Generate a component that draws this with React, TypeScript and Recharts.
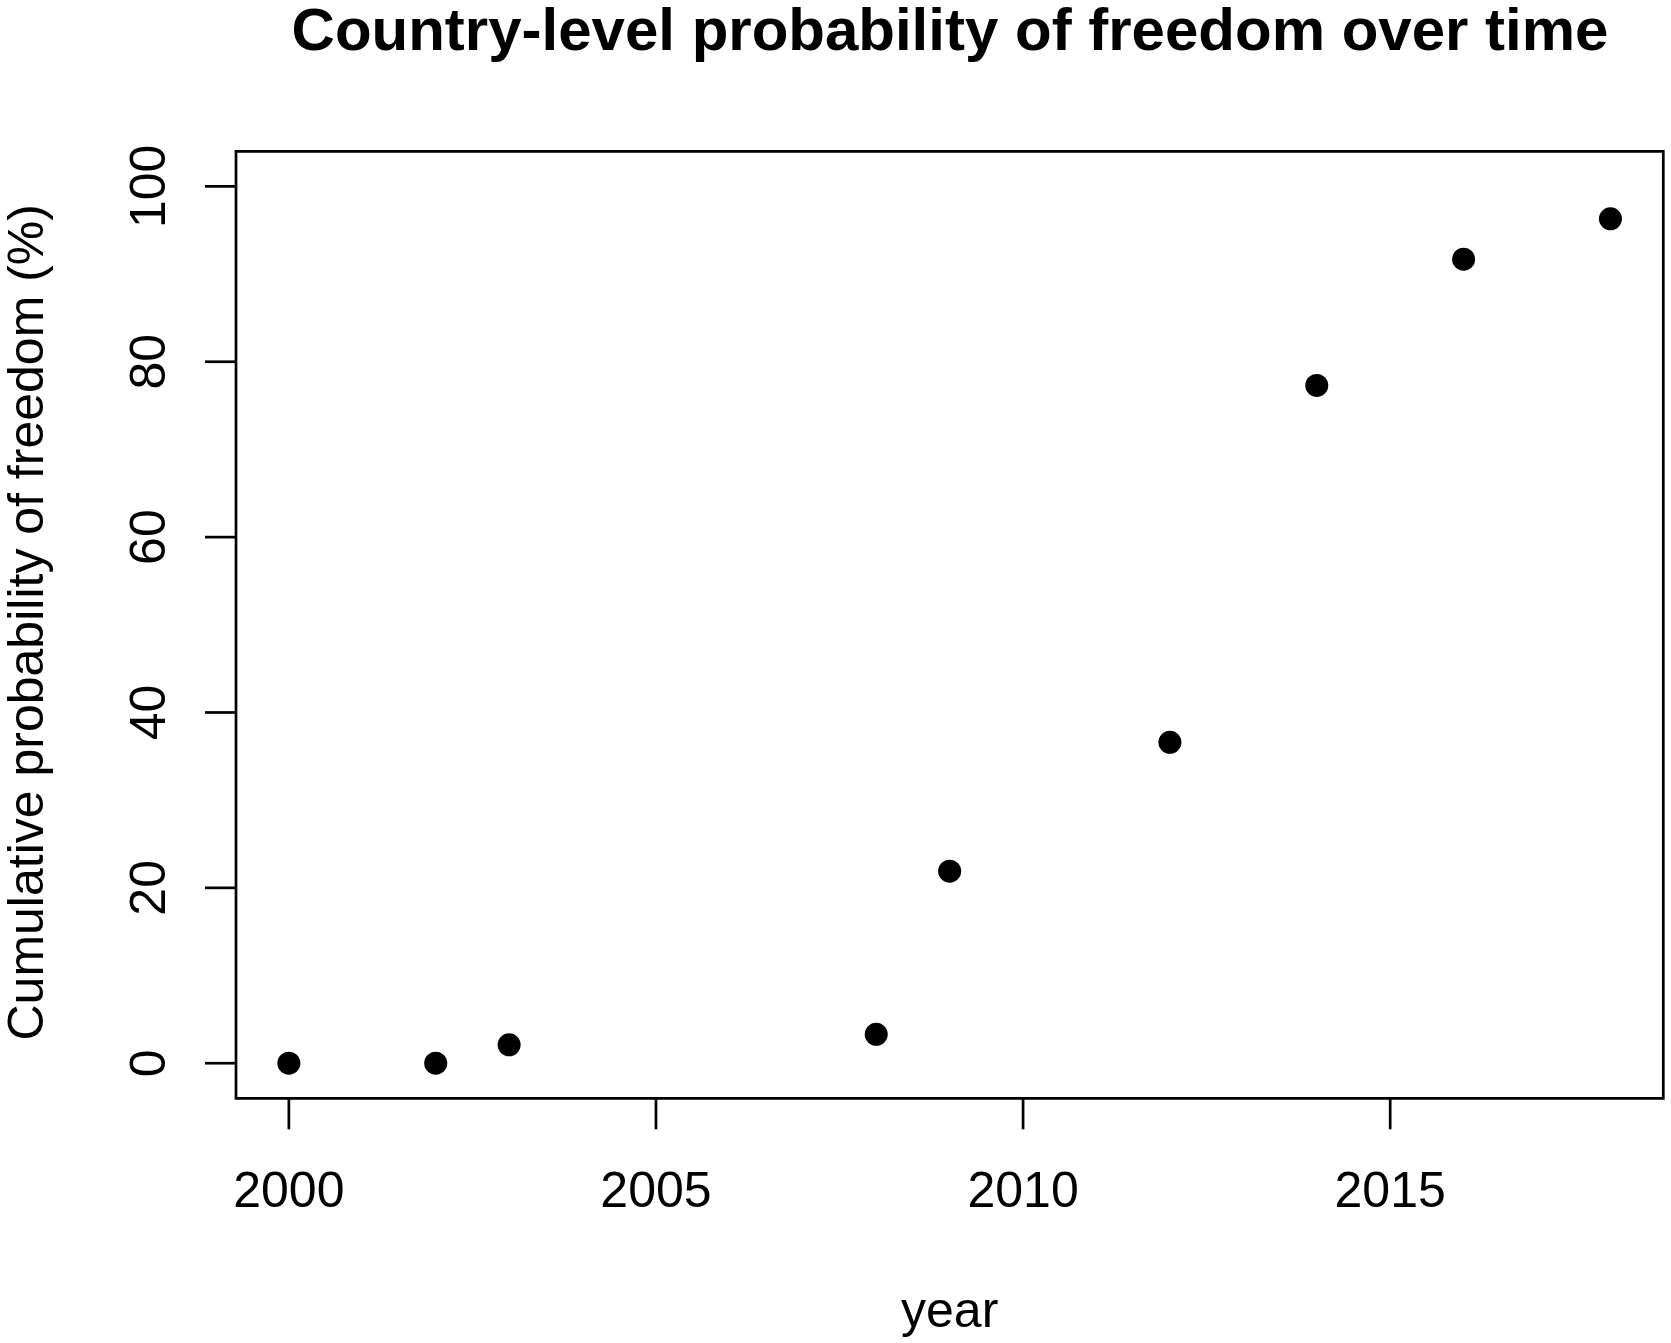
import React from 'react';
import {
  ScatterChart,
  Scatter,
  XAxis,
  YAxis,
  ReferenceArea,
} from 'recharts';

// years with an estimate
const years = [2000, 2002, 2003, 2008, 2009, 2012, 2014, 2016, 2018];
// cumulative probability of freedom (%)
const probability = [0, 0, 2.1, 3.3, 21.9, 36.6, 77.3, 91.7, 96.3];

const xTicks = [2000, 2005, 2010, 2015];
const yTicks = [0, 20, 40, 60, 80, 100];

const TITLE = 'Country-level probability of freedom over time';
const X_LABEL = 'year';
const Y_LABEL = 'Cumulative probability of freedom (%)';

// R style axis ranges (4% padding)
const X_DOMAIN = [1999.28, 2018.72];
const Y_DOMAIN = [-4, 104];

const FONT = '"Liberation Sans", Arial, sans-serif';
const WIDTH = 1671;
const HEIGHT = 1343;

const data = years.map((year, i) => ({ year, value: probability[i] }));

const XTick = ({ x, y, payload }: any) => (
  <text x={x} y={y} textAnchor="middle" fontSize={50} fill="#000" fontFamily={FONT}>
    {payload.value}
  </text>
);

const YTick = ({ x, y, payload }: any) => (
  <text
    x={x}
    y={y}
    transform={`rotate(-90, ${x}, ${y})`}
    textAnchor="middle"
    fontSize={50}
    fill="#000"
    fontFamily={FONT}
  >
    {payload.value}
  </text>
);

const Dot = (props: any) => <circle cx={props.cx} cy={props.cy} r={11.5} fill="#000" />;

const App = () => {
  return (
    <div style={{ position: 'relative', width: WIDTH, height: HEIGHT, background: '#fff' }}>
      <style>{'body{margin:0}'}</style>
      <ScatterChart
        width={WIDTH}
        height={HEIGHT}
        margin={{ top: 151.3, right: 7.7, bottom: 144.7, left: 36 }}
      >
        <XAxis
          type="number"
          dataKey="year"
          domain={X_DOMAIN}
          ticks={xTicks}
          allowDataOverflow
          height={100}
          axisLine={false}
          tickSize={31}
          tickMargin={77.7}
          tickLine={{ stroke: '#000', strokeWidth: 2.7 }}
          tick={<XTick />}
          interval={0}
          label={(props: any) => {
            const vb = props.viewBox;
            return (
              <text
                x={vb.x + vb.width / 2}
                y={vb.y + 228.7}
                textAnchor="middle"
                fontSize={50}
                fill="#000"
                fontFamily={FONT}
              >
                {X_LABEL}
              </text>
            );
          }}
        />
        <YAxis
          type="number"
          dataKey="value"
          domain={Y_DOMAIN}
          ticks={yTicks}
          allowDataOverflow
          width={200}
          axisLine={false}
          tickSize={31}
          tickMargin={40}
          tickLine={{ stroke: '#000', strokeWidth: 2.7 }}
          tick={<YTick />}
          interval={0}
          label={(props: any) => {
            const vb = props.viewBox;
            const lx = vb.x + 7;
            const ly = vb.y + vb.height / 2 - 2.5;
            return (
              <text
                x={lx}
                y={ly}
                transform={`rotate(-90, ${lx}, ${ly})`}
                textAnchor="middle"
                fontSize={50}
                fill="#000"
                fontFamily={FONT}
              >
                {Y_LABEL}
              </text>
            );
          }}
        />
        <ReferenceArea
          x1={X_DOMAIN[0]}
          x2={X_DOMAIN[1]}
          y1={Y_DOMAIN[0]}
          y2={Y_DOMAIN[1]}
          fill="none"
          fillOpacity={0}
          stroke="#000"
          strokeWidth={2.7}
          ifOverflow="visible"
        />
        <Scatter data={data} shape={<Dot />} isAnimationActive={false} />
      </ScatterChart>
      <svg
        width={WIDTH}
        height={100}
        style={{ position: 'absolute', left: 0, top: 0, pointerEvents: 'none' }}
      >
        <text
          x={950}
          y={50}
          textAnchor="middle"
          fontSize={60}
          fontWeight="bold"
          fill="#000"
          fontFamily={FONT}
        >
          {TITLE}
        </text>
      </svg>
    </div>
  );
};

export default App;
